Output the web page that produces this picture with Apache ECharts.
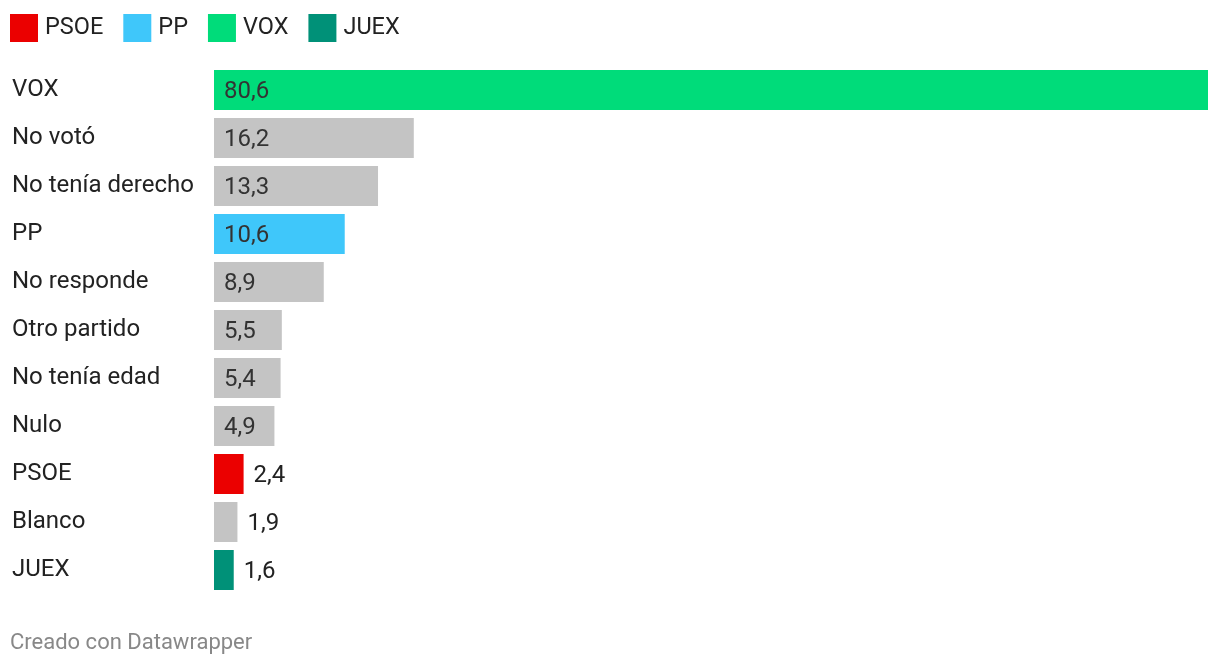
<!DOCTYPE html>
<html>
<head>
<meta charset="utf-8">
<script src="https://cdn.jsdelivr.net/npm/echarts@6/dist/echarts.min.js"></script>
<style>
html,body{margin:0;padding:0;background:#fff;}
#chart{width:1220px;height:666px;}
</style>
</head>
<body>
<div id="chart"></div>
<script>
const categories = ["VOX","No votó","No tenía derecho","PP","No responde","Otro partido","No tenía edad","Nulo","PSOE","Blanco","JUEX"];
const values = [80.6,16.2,13.3,10.6,8.9,5.5,5.4,4.9,2.4,1.9,1.6];
const barColors = ["#00dc7a","#c4c4c4","#c4c4c4","#3fc7fa","#c4c4c4","#c4c4c4","#c4c4c4","#c4c4c4","#eb0000","#c4c4c4","#009178"];
const legendNames = ["PSOE","PP","VOX","JUEX"];
const legendColors = ["#eb0000","#3fc7fa","#00dc7a","#009178"];
const footer = "Creado con Datawrapper";

const FONT = "Roboto";
const chart = echarts.init(document.getElementById('chart'));

const barData = values.map((v, i) => {
  const inside = v >= 4;
  return {
    value: v,
    itemStyle: { color: barColors[i] },
    label: {
      show: true,
      position: inside ? 'insideLeft' : 'right',
      distance: 10,
      offset: [0, 2],
      color: inside ? '#333' : '#222',
      fontSize: 24,
      fontFamily: FONT
    }
  };
});

const dummySeries = legendNames.map((n, i) => ({
  name: n,
  type: 'line',
  data: [],
  itemStyle: { color: legendColors[i] },
  lineStyle: { color: legendColors[i] }
}));

chart.setOption({
  animation: false,
  legend: {
    data: legendNames,
    left: 10,
    top: 14,
    padding: 0,
    icon: 'rect',
    itemWidth: 28,
    itemHeight: 28,
    itemGap: 20,
    textStyle: { fontSize: 23.5, fontFamily: FONT, color: '#222', padding: [2,0,0,2] }
  },
  grid: { left: 214, right: 12, top: 66, height: 528, containLabel: false },
  xAxis: {
    type: 'value',
    min: 0,
    max: 80.6,
    show: false
  },
  yAxis: {
    type: 'category',
    data: categories,
    inverse: true,
    axisLine: { show: false },
    axisTick: { show: false },
    axisLabel: {
      align: 'left',
      margin: 202,
      fontSize: 24,
      fontFamily: FONT,
      color: '#222',
      verticalAlign: 'middle',
      padding: [0,0,6,0]
    }
  },
  series: [{
    type: 'bar',
    data: barData,
    barWidth: 40,
    label: {
      show: true,
      formatter: p => String(p.value).replace('.', ',')
    }
  }].concat(dummySeries),
  graphic: [{
    type: 'text',
    left: 10,
    top: 632,
    style: { text: footer, fontSize: 22, fontFamily: FONT, fill: '#888' }
  }]
});
</script>
</body>
</html>
